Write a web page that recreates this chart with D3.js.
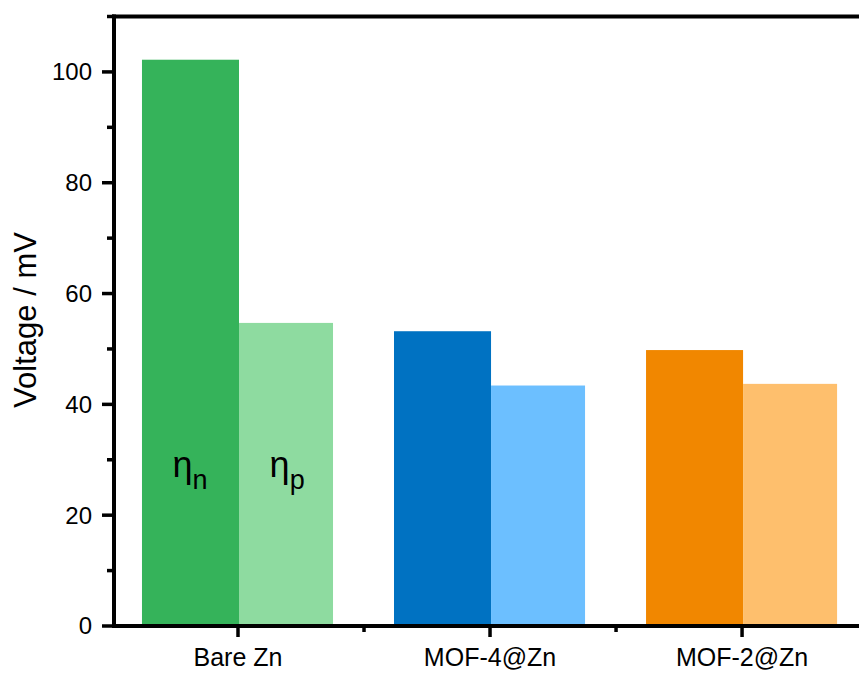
<!DOCTYPE html>
<html>
<head>
<meta charset="utf-8">
<script src="https://cdn.jsdelivr.net/npm/d3@7"></script>
<style>
  body { margin: 0; background: #fff; }
  text { font-family: "Liberation Sans", Arial, sans-serif; fill: #000; }
</style>
</head>
<body>
<script>
var width = 859,
    height = 673;

// data
var categories = ['Bare Zn', 'MOF-4@Zn', 'MOF-2@Zn'];
var etaN = [102.2, 53.2, 49.8];
var etaP = [54.7, 43.4, 43.7];
var darkColors = ['#35b35a', '#0072c2', '#f18700'];
var lightColors = ['#8edba0', '#6cbfff', '#febf6d'];
var yTicks = [0, 20, 40, 60, 80, 100];

var margin = {left: 114, top: 16.5, bottom: 626};

var x = d3.scaleLinear()
  .domain([0.508, 3.464])
  .range([margin.left, width]);

var y = d3.scaleLinear()
  .domain([0, 110])
  .range([margin.bottom, margin.top]);

var darkW = 0.385,
    lightW = 0.373,
    gap = 0.004;

var svg = d3.select('body')
  .append('svg')
  .attr('width', width)
  .attr('height', height);

var bars = svg.append('g');

categories.forEach(function(c, i) {
  var cx = i + 1;
  bars.append('rect')
    .attr('x', x(cx - darkW + gap))
    .attr('y', y(etaN[i]))
    .attr('width', x(cx + gap) - x(cx - darkW + gap))
    .attr('height', y(0) - y(etaN[i]))
    .attr('fill', darkColors[i]);
  bars.append('rect')
    .attr('x', x(cx + gap))
    .attr('y', y(etaP[i]))
    .attr('width', x(cx + gap + lightW) - x(cx + gap))
    .attr('height', y(0) - y(etaP[i]))
    .attr('fill', lightColors[i]);
});

// eta labels inside the Bare Zn bars
var labY = 477;
function eta(cx, sub) {
  var t = svg.append('text')
    .attr('x', x(cx))
    .attr('y', labY)
    .attr('text-anchor', 'middle')
    .style('font-size', '36px');
  t.append('tspan').text('η');
  t.append('tspan').attr('dy', 12).style('font-size', '27px').text(sub);
}
eta(1 - 0.19, 'n');
eta(1 + 0.195, 'p');

// y axis
var yAxis = svg.append('g');
yAxis.append('line')
  .attr('x1', margin.left).attr('x2', margin.left)
  .attr('y1', margin.top - 2).attr('y2', margin.bottom + 2)
  .attr('stroke', '#000').attr('stroke-width', 4);

d3.range(0, 111, 10).forEach(function(v) {
  var major = v % 20 === 0;
  yAxis.append('line')
    .attr('x1', margin.left).attr('x2', margin.left - (major ? 12 : 7))
    .attr('y1', y(v)).attr('y2', y(v))
    .attr('stroke', '#000').attr('stroke-width', 3.5);
});

yAxis.selectAll('text.tick')
  .data(yTicks)
  .enter().append('text')
  .attr('class', 'tick')
  .attr('x', 92)
  .attr('y', function(d) { return y(d); })
  .attr('dy', '0.35em')
  .attr('text-anchor', 'end')
  .style('font-size', '24px')
  .text(function(d) { return d; });

svg.append('text')
  .attr('transform', 'translate(36,320) rotate(-90)')
  .attr('text-anchor', 'middle')
  .style('font-size', '31px')
  .text('Voltage / mV');

// x axis
var xAxis = svg.append('g');
xAxis.append('line')
  .attr('x1', margin.left - 2).attr('x2', width)
  .attr('y1', margin.bottom).attr('y2', margin.bottom)
  .attr('stroke', '#000').attr('stroke-width', 4);

[1, 1.5, 2, 2.5, 3].forEach(function(v) {
  var major = v % 1 === 0;
  xAxis.append('line')
    .attr('x1', x(v)).attr('x2', x(v))
    .attr('y1', margin.bottom).attr('y2', margin.bottom + (major ? 11 : 6))
    .attr('stroke', '#000').attr('stroke-width', 3.5);
});

xAxis.selectAll('text.tick')
  .data(categories)
  .enter().append('text')
  .attr('class', 'tick')
  .attr('x', function(d, i) { return x(i + 1); })
  .attr('y', 666)
  .attr('text-anchor', 'middle')
  .style('font-size', '25px')
  .text(function(d) { return d; });

// top frame line
svg.append('line')
  .attr('x1', margin.left - 2).attr('x2', width)
  .attr('y1', margin.top).attr('y2', margin.top)
  .attr('stroke', '#000').attr('stroke-width', 4);
</script>
</body>
</html>
